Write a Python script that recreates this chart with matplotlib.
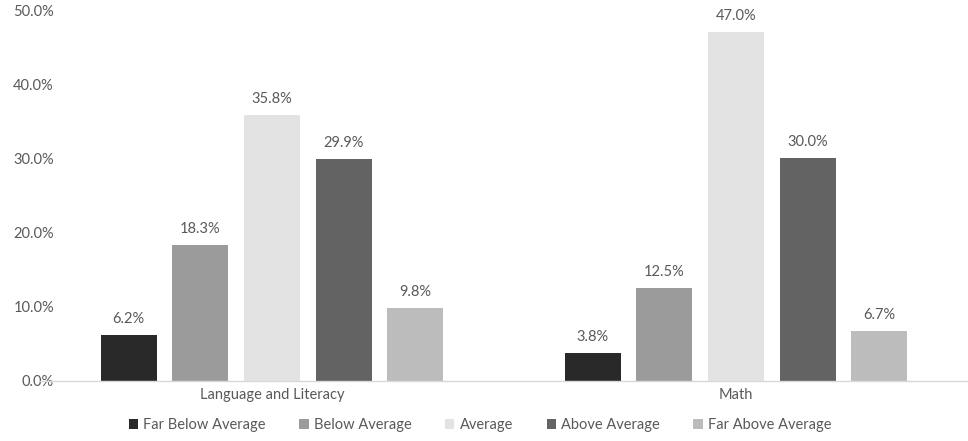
import matplotlib
matplotlib.use("Agg")
import matplotlib.pyplot as plt
from matplotlib.patches import Patch
import numpy as np

plt.rcParams['font.family'] = ['Lato', 'DejaVu Sans']

categories = ["Language and Literacy", "Math"]
series = ["Far Below Average", "Below Average", "Average", "Above Average", "Far Above Average"]
values = {
    "Far Below Average": [6.2, 3.8],
    "Below Average": [18.3, 12.5],
    "Average": [35.8, 47.0],
    "Above Average": [29.9, 30.0],
    "Far Above Average": [9.8, 6.7],
}
colors = ["#292929", "#9b9b9b", "#e3e3e3", "#636363", "#bcbcbc"]
yticks = [0, 10, 20, 30, 40, 50]

txt = "#595959"
fig = plt.figure(figsize=(9.68, 4.41), dpi=100)
ax = fig.add_axes([40/968, 1-381/441, 928/968, (381-10)/441])

x = np.arange(len(categories))
step = 0.1543
width = 0.1207
for i, s in enumerate(series):
    pos = x + (i - 2) * step
    bars = ax.bar(pos, values[s], width=width, color=colors[i], label=s, zorder=2)
    for b, v in zip(bars, values[s]):
        ax.annotate(f"{v:.1f}%", (b.get_x() + b.get_width()/2, v),
                    xytext=(0, 6.5), textcoords="offset points",
                    ha="center", va="bottom", fontsize=10.5, color=txt)

ax.set_xlim(-0.5, 1.5)
ax.set_ylim(0, 50)
ax.set_yticks(yticks)
ax.set_yticklabels([f"{t:.1f}%" for t in yticks])
ax.set_xticks(x)
ax.set_xticklabels(categories)
ax.tick_params(axis='both', length=0, colors=txt, labelsize=10.5)
ax.tick_params(axis='y', pad=-10)
ax.tick_params(axis='x', pad=5)
for sp in ["top", "right", "left"]:
    ax.spines[sp].set_visible(False)
ax.spines["bottom"].set_color("#d9d9d9")
ax.spines["bottom"].set_linewidth(1)

handles = [Patch(facecolor=c, label=s) for c, s in zip(colors, series)]
fig.legend(handles=handles, loc="center", bbox_to_anchor=(480/968, 1-425/441),
           ncol=5, frameon=False, fontsize=10.5, handlelength=0.65, handleheight=0.65,
           handletextpad=0.35, columnspacing=2.3, labelcolor=txt)

fig.savefig("out.png", dpi=100)
